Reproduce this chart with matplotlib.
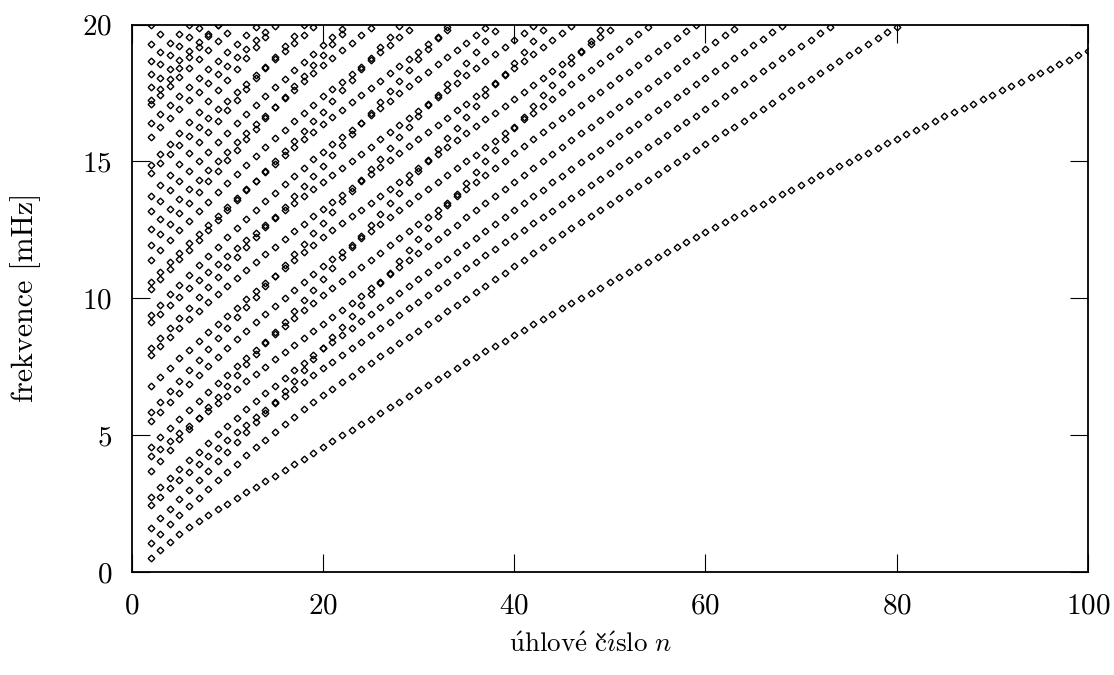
import numpy as np
import matplotlib
matplotlib.use("Agg")
import matplotlib.pyplot as plt
from matplotlib.lines import Line2D

# every ridge starts at n = 2, one value per integer n, frequencies in mHz
# main family (slope ~0.2-0.3 mHz per n)
nu_a1 = [0.50, 0.80, 1.11, 1.40, 1.65, 1.87, 2.09, 2.30, 2.50, 2.70, 2.91, 3.11, 3.32, 3.52, 3.72, 3.93, 4.14, 4.36, 4.58,
         4.79, 4.99, 5.19, 5.40, 5.60, 5.81, 6.01, 6.22, 6.43, 6.64, 6.84, 7.05, 7.25, 7.45, 7.66, 7.86, 8.06, 8.26, 8.45,
         8.65, 8.85, 9.05, 9.24, 9.44, 9.63,
         9.82, 10.01, 10.20, 10.39, 10.58, 10.77, 10.96, 11.15, 11.34, 11.52, 11.70, 11.89, 12.07, 12.25, 12.42, 12.60,
         12.78, 12.95, 13.12, 13.29, 13.46, 13.63, 13.80, 13.97, 14.15, 14.32, 14.49,
         14.66, 14.82, 14.99, 15.16, 15.32, 15.49, 15.66, 15.82, 15.99, 16.15, 16.31, 16.48, 16.64, 16.79, 16.95, 17.11,
         17.27, 17.43, 17.59, 17.75, 17.91, 18.07, 18.23, 18.39, 18.55, 18.71, 18.88, 19.05]
nu_a2 = [1.05, 1.40, 1.74, 2.07, 2.40, 2.72, 3.04, 3.35, 3.66, 3.96, 4.26, 4.55, 4.84, 5.12, 5.40, 5.67, 5.94, 6.21, 6.47,
         6.70, 6.94, 7.17, 7.41, 7.64, 7.88, 8.11, 8.35, 8.58, 8.82, 9.05, 9.29, 9.52, 9.76, 9.99, 10.23, 10.46, 10.70,
         10.93, 11.17, 11.40, 11.64, 11.87, 12.11, 12.34,
         12.56, 12.78, 13.00, 13.21, 13.43, 13.65, 13.87, 14.09, 14.31, 14.53, 14.74, 14.96, 15.18, 15.40, 15.62, 15.84,
         16.06, 16.27, 16.49, 16.71, 16.93, 17.15, 17.37, 17.59, 17.80, 18.02, 18.24,
         18.45, 18.66, 18.87, 19.08, 19.29, 19.50, 19.71, 19.92]
nu_a3 = [2.43, 2.75, 3.06, 3.36, 3.66, 3.96, 4.25, 4.54, 4.83, 5.11, 5.38, 5.65, 5.92, 6.18, 6.44, 6.69, 6.94, 7.19, 7.44,
         7.68, 7.93, 8.17, 8.41, 8.66, 8.90, 9.14, 9.39, 9.63, 9.88, 10.12, 10.36, 10.61, 10.85, 11.09, 11.34, 11.58,
         11.81, 12.04, 12.27, 12.50, 12.74, 12.97, 13.20, 13.43,
         13.66, 13.89, 14.12, 14.36, 14.59, 14.82, 15.05, 15.28, 15.51, 15.75, 15.98, 16.21, 16.44, 16.67, 16.90, 17.14,
         17.37, 17.60, 17.83, 18.06, 18.29, 18.53, 18.76, 18.99, 19.22, 19.45, 19.68, 19.90]
nu_a4 = [2.75, 3.09, 3.43, 3.76, 4.08, 4.40, 4.72, 5.03, 5.34, 5.64, 5.94, 6.24, 6.53, 6.81, 7.09, 7.37, 7.64, 7.91, 8.17,
         8.42, 8.67, 8.93, 9.18, 9.43, 9.69, 9.94, 10.19, 10.44, 10.69, 10.95, 11.20, 11.45, 11.70, 11.95, 12.21, 12.46,
         12.71, 12.96, 13.22, 13.47, 13.72, 13.97, 14.23, 14.48,
         14.72, 14.96, 15.19, 15.43, 15.67, 15.91, 16.15, 16.38, 16.62, 16.86, 17.10, 17.34, 17.57, 17.81, 18.05, 18.29,
         18.52, 18.76, 19.00, 19.24, 19.47, 19.71, 19.95]
nu_a5 = [4.23, 4.51, 4.79, 5.07, 5.34, 5.62, 5.89, 6.16, 6.43, 6.70, 6.97, 7.24, 7.50, 7.77, 8.03, 8.29, 8.55, 8.81, 9.06,
         9.32, 9.58, 9.84, 10.10, 10.36, 10.61, 10.87, 11.13, 11.39, 11.65, 11.91, 12.17, 12.43, 12.69, 12.95, 13.21,
         13.47, 13.73, 13.99, 14.25, 14.50, 14.76, 15.02, 15.28, 15.54,
         15.78, 16.02, 16.26, 16.50, 16.73, 16.97, 17.21, 17.45, 17.69, 17.93, 18.17, 18.41, 18.65, 18.88, 19.12, 19.36,
         19.60, 19.84]
nu_a6 = [4.57, 4.92, 5.26, 5.59, 5.92, 6.25, 6.57, 6.89, 7.20, 7.51, 7.82, 8.12, 8.42, 8.71, 9.00, 9.28, 9.57, 9.84, 10.12,
         10.38, 10.64, 10.90, 11.15, 11.41, 11.67, 11.93, 12.19, 12.45, 12.70, 12.96, 13.22, 13.48, 13.74, 14.00, 14.25,
         14.51, 14.77, 15.03, 15.29, 15.55, 15.80, 16.06, 16.32, 16.58,
         16.82, 17.07, 17.31, 17.55, 17.80, 18.04, 18.28, 18.53, 18.77, 19.02, 19.26, 19.50, 19.75, 19.99]
nu_a7 = [5.51, 5.86, 6.21, 6.55, 6.88, 7.21, 7.54, 7.86, 8.18, 8.50, 8.81, 9.12, 9.42, 9.72, 10.02, 10.31, 10.60, 10.89, 11.17,
         11.43, 11.68, 11.94, 12.19, 12.45, 12.70, 12.96, 13.21, 13.47, 13.72, 13.98, 14.23, 14.49, 14.74, 15.00, 15.25,
         15.51, 15.76, 16.02, 16.27, 16.53, 16.78, 17.04, 17.29, 17.55,
         17.81, 18.07, 18.33, 18.59, 18.86, 19.12, 19.38, 19.64, 19.90]
nu_a8 = [6.81, 7.14, 7.47, 7.80, 8.12, 8.44, 8.75, 9.06, 9.36, 9.66, 9.96, 10.25, 10.54, 10.83, 11.11, 11.39, 11.68, 11.95, 12.23,
         12.48, 12.74, 12.99, 13.24, 13.49, 13.75, 14.00, 14.25, 14.51, 14.76, 15.01, 15.26, 15.52, 15.77, 16.02, 16.28,
         16.53, 16.78, 17.04, 17.29, 17.54, 17.79, 18.05, 18.30, 18.55,
         18.80, 19.05, 19.30, 19.55, 19.80]
nu_a9 = [7.94, 8.27, 8.59, 8.91, 9.23, 9.54, 9.85, 10.15, 10.45, 10.75, 11.04, 11.33, 11.61, 11.89, 12.17, 12.45, 12.72, 12.99, 13.26,
         13.52, 13.77, 14.03, 14.29, 14.54, 14.80, 15.06, 15.32, 15.57, 15.83, 16.09, 16.34, 16.60, 16.86, 17.11, 17.37,
         17.63, 17.88, 18.14, 18.40, 18.65, 18.91, 19.17, 19.42, 19.68, 19.93]
nu_a10 = [9.12, 9.44, 9.75, 10.06, 10.36, 10.66, 10.96, 11.25, 11.54, 11.83, 12.11, 12.39, 12.67, 12.94, 13.21, 13.48, 13.74,
          13.99, 14.24, 14.50, 14.76, 15.02, 15.28, 15.54, 15.80, 16.06, 16.32, 16.58, 16.84, 17.10, 17.36, 17.62, 17.88,
          18.14, 18.40, 18.66, 18.92, 19.18, 19.44, 19.70, 19.96]
nu_a11 = [9.40, 9.77, 10.14, 10.50, 10.85, 11.20, 11.55, 11.89, 12.23, 12.57, 12.89, 13.22, 13.54, 13.85, 14.16, 14.47, 14.77,
          15.07, 15.36, 15.63, 15.89, 16.16, 16.42, 16.69, 16.95, 17.22, 17.48, 17.75, 18.01, 18.28, 18.54, 18.81, 19.07,
          19.34, 19.60, 19.87]
nu_a12 = [10.61, 10.97, 11.32, 11.67, 12.01, 12.35, 12.69, 13.02, 13.35, 13.67, 13.99, 14.30, 14.61, 14.92, 15.22, 15.51, 15.80,
          16.08, 16.36, 16.63, 16.89, 17.16, 17.42, 17.69, 17.95, 18.22, 18.48, 18.75, 19.01, 19.28, 19.54, 19.81]
nu_a13 = [11.38, 11.75, 12.12, 12.48, 12.83, 13.18, 13.53, 13.87, 14.21, 14.55, 14.88, 15.20, 15.52, 15.84, 16.15, 16.46, 16.77,
          17.07, 17.37, 17.64, 17.91, 18.18, 18.45, 18.72, 18.99, 19.26, 19.53, 19.80]
nu_a14 = [12.53, 12.90, 13.27, 13.63, 13.98, 14.33, 14.68, 15.02, 15.36, 15.70, 16.03, 16.35, 16.67, 16.99, 17.30, 17.61, 17.92,
          18.22, 18.52, 18.79, 19.06, 19.33, 19.60, 19.87]
nu_a15 = [13.20, 13.57, 13.94, 14.30, 14.66, 15.01, 15.36, 15.71, 16.05, 16.39, 16.72, 17.05, 17.38, 17.70, 18.02, 18.33, 18.64,
          18.94, 19.24, 19.53, 19.82]
nu_a16 = [14.59, 14.93, 15.27, 15.60, 15.93, 16.26, 16.58, 16.90, 17.22, 17.53, 17.84, 18.15, 18.45, 18.75, 19.05, 19.34, 19.63,
          19.92]
nu_a17 = [15.90, 16.24, 16.57, 16.90, 17.23, 17.55, 17.87, 18.19, 18.50, 18.81, 19.12, 19.43, 19.73]
nu_a18 = [16.39, 16.73, 17.06, 17.39, 17.72, 18.04, 18.36, 18.68, 18.99, 19.30, 19.61, 19.92]
nu_a19 = [17.09, 17.43, 17.76, 18.09, 18.42, 18.74, 19.06, 19.38, 19.69]
nu_a20 = [17.70, 18.04, 18.37, 18.70, 19.03, 19.35, 19.67, 19.99]
nu_a21 = [18.21, 18.55, 18.88, 19.21, 19.54, 19.86]
nu_a22 = [18.67, 19.01, 19.34, 19.67, 19.99]
nu_a23 = [19.98]

# steep family (slope ~0.4 mHz per n)
nu_b1 = [1.62, 1.96, 2.30, 2.65, 3.00, 3.35, 3.70, 4.05, 4.40, 4.76, 5.11, 5.47, 5.82, 6.21, 6.60, 6.99, 7.39, 7.78, 8.17,
         8.57, 8.96, 9.36, 9.75, 10.15, 10.55, 10.94, 11.35, 11.76, 12.17, 12.58, 13.00, 13.41, 13.81, 14.21, 14.61, 15.01,
         15.41, 15.81, 16.21, 16.61, 17.01, 17.41, 17.80, 18.20, 18.60, 19.00, 19.40, 19.80]
nu_b2 = [3.68, 4.07, 4.46, 4.85, 5.24, 5.63, 6.02, 6.41, 6.80, 7.19, 7.58, 7.97, 8.36, 8.75, 9.14, 9.53, 9.92, 10.31, 10.70,
         11.10, 11.49, 11.89, 12.28, 12.68, 13.07, 13.47, 13.86, 14.26, 14.65, 15.05, 15.44, 15.84, 16.23, 16.63, 17.02,
         17.42, 17.81, 18.21, 18.60, 19.00, 19.39, 19.79]
nu_b3 = [5.84, 6.22, 6.61, 6.99, 7.38, 7.76, 8.14, 8.53, 8.91, 9.30, 9.68, 10.06, 10.45, 10.83, 11.22, 11.60, 11.98, 12.37, 12.76,
         13.15, 13.54, 13.93, 14.32, 14.71, 15.10, 15.49, 15.88, 16.27, 16.66, 17.05, 17.44, 17.83, 18.22, 18.61, 19.00,
         19.39, 19.78]
nu_b4 = [8.18, 8.55, 8.92, 9.29, 9.66, 10.03, 10.40, 10.76, 11.13, 11.50, 11.87, 12.24, 12.61, 12.98, 13.35, 13.72, 14.09, 14.46,
         14.83, 15.22, 15.61, 16.00, 16.39, 16.78, 17.17, 17.56, 17.95, 18.34, 18.73, 19.12, 19.51, 19.90]
nu_b5 = [10.34, 10.70, 11.06, 11.42, 11.78, 12.14, 12.50, 12.86, 13.22, 13.58, 13.94, 14.30, 14.66, 15.02, 15.38, 15.74, 16.10,
         16.46, 16.82, 17.21, 17.60, 17.99, 18.38, 18.77, 19.16, 19.55, 19.94]
nu_b6 = [11.95, 12.34, 12.72, 13.11, 13.49, 13.88, 14.27, 14.65, 15.04, 15.42, 15.81, 16.20, 16.58, 16.97, 17.35, 17.74, 18.13,
         18.51, 18.90, 19.29, 19.67]
nu_b7 = [13.74, 14.13, 14.52, 14.91, 15.30, 15.69, 16.08, 16.47, 16.86, 17.25, 17.64, 18.03, 18.42, 18.81, 19.20, 19.59, 19.98]
nu_b8 = [14.87, 15.26, 15.65, 16.04, 16.43, 16.82, 17.21, 17.60, 17.99, 18.38, 18.77, 19.16, 19.55, 19.94]
nu_b9 = [17.24, 17.63, 18.02, 18.41, 18.80, 19.19, 19.58, 19.97]
nu_b10 = [19.28, 19.67]

ridges = [nu_a1, nu_a2, nu_a3, nu_a4, nu_a5, nu_a6, nu_a7, nu_a8, nu_a9, nu_a10, nu_a11, nu_a12,
          nu_a13, nu_a14, nu_a15, nu_a16, nu_a17, nu_a18, nu_a19, nu_a20, nu_a21, nu_a22, nu_a23,
          nu_b1, nu_b2, nu_b3, nu_b4, nu_b5, nu_b6, nu_b7, nu_b8, nu_b9, nu_b10]
n_first = 2

plt.rcParams['font.family'] = 'serif'
plt.rcParams['font.serif'] = ['cmr10']
plt.rcParams['mathtext.fontset'] = 'cm'
plt.rcParams['axes.unicode_minus'] = False
plt.rcParams['axes.formatter.use_mathtext'] = True

fig = plt.figure(figsize=(11.14, 6.75), dpi=100)
ax = fig.add_axes([0.1181, 0.1526, 0.8585, 0.8111])

for nu in ridges:
    n = np.arange(n_first, n_first + len(nu))
    ax.plot(n, nu, ls='none', marker='D', ms=3.4, mfc='none', mec='black', mew=1.0)

ax.set_xlim(0, 100)
ax.set_ylim(0, 20)
ax.set_xticks([0, 20, 40, 60, 80, 100])
ax.set_yticks([0, 5, 10, 15, 20])
ax.tick_params(direction='in', length=13, width=0.8, top=True, right=True, labelsize=21)
ax.tick_params(axis='x', pad=15.5)
ax.tick_params(axis='y', pad=14)
for s in ax.spines.values():
    s.set_linewidth(1.3)

# x label: cm mathtext accents; the caron on c is drawn as a small stroke
W, H = 1114, 675
yb = 1 - 652 / 675
lab = fig.text(591 / W, yb, r'$\mathrm{\acute{u}hlov\acute{e}\ c\acute{\imath}slo}\ n$',
               fontsize=19.5, ha='center', va='baseline')
r = fig.canvas.get_renderer()
bb = lab.get_window_extent(r)
t1 = fig.text(0, 0.5, r'$\mathrm{\acute{u}hlov\acute{e}\ c}$', fontsize=19.5)
t2 = fig.text(0, 0.5, r'$\mathrm{c}$', fontsize=19.5)
w1 = t1.get_window_extent(r).width
w2 = t2.get_window_extent(r).width
t1.remove()
t2.remove()
xc = bb.x0 + w1 - w2 / 2
ybp = yb * H
caron = Line2D([(xc - 3.6) / W, xc / W, (xc + 3.6) / W],
               [(ybp + 18) / H, (ybp + 14) / H, (ybp + 18) / H],
               transform=fig.transFigure, color='black', lw=1.1, solid_joinstyle='miter')
fig.add_artist(caron)

fig.text(26 / W, 1 - 297 / 675, 'frekvence [mHz]', fontsize=21.5, rotation=90, ha='center', va='center')

fig.savefig('out.png', dpi=100)
